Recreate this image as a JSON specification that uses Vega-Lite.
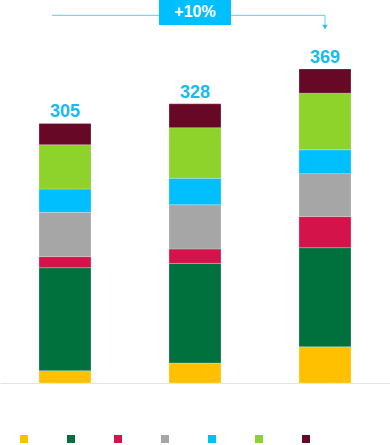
{
  "$schema": "https://vega.github.io/schema/vega-lite/v6.json",
  "width": 390,
  "height": 383,
  "autosize": {"type": "none"},
  "padding": {"left": 0, "top": 0, "right": 0, "bottom": 62},
  "background": "white",
  "config": {"view": {"stroke": null}, "font": "Liberation Sans"},
  "datasets": {
    "segments": [
      {"year": "2019", "series": "Segment 1", "value": 14.5},
      {"year": "2019", "series": "Segment 2", "value": 121},
      {"year": "2019", "series": "Segment 3", "value": 13},
      {"year": "2019", "series": "Segment 4", "value": 52},
      {"year": "2019", "series": "Segment 5", "value": 27.5},
      {"year": "2019", "series": "Segment 6", "value": 52},
      {"year": "2019", "series": "Segment 7", "value": 25},
      {"year": "2020", "series": "Segment 1", "value": 23.5},
      {"year": "2020", "series": "Segment 2", "value": 117},
      {"year": "2020", "series": "Segment 3", "value": 17},
      {"year": "2020", "series": "Segment 4", "value": 52},
      {"year": "2020", "series": "Segment 5", "value": 31},
      {"year": "2020", "series": "Segment 6", "value": 59.5},
      {"year": "2020", "series": "Segment 7", "value": 28},
      {"year": "2021", "series": "Segment 1", "value": 42.5},
      {"year": "2021", "series": "Segment 2", "value": 116.5},
      {"year": "2021", "series": "Segment 3", "value": 36.5},
      {"year": "2021", "series": "Segment 4", "value": 50.5},
      {"year": "2021", "series": "Segment 5", "value": 28},
      {"year": "2021", "series": "Segment 6", "value": 66.5},
      {"year": "2021", "series": "Segment 7", "value": 28.5}
    ],
    "growth": [
      {"from": "2019", "to": "2021", "mid": "2020", "lineY": 432, "tipY": 421, "arrowY": 418, "boxBottom": 420.6, "boxTop": 450, "labelY": 435.5, "label": "+10%"}
    ]
  },
  "layer": [
    {
      "data": {"name": "segments"},
      "mark": {"type": "bar", "stroke": "white", "strokeWidth": 0.4, "strokeOpacity": 0.6},
      "encoding": {
        "x": {
          "field": "year", "type": "nominal",
          "scale": {"domain": ["2019", "2020", "2021"], "paddingInner": 0.6, "paddingOuter": 0.3},
          "axis": {"title": null, "labels": false, "ticks": false, "domainColor": "#e3e3e3", "domainWidth": 1}
        },
        "y": {
          "field": "value", "type": "quantitative", "stack": "zero",
          "scale": {"domain": [0, 450], "nice": false},
          "axis": null
        },
        "color": {
          "field": "series", "type": "nominal",
          "scale": {
            "domain": ["Segment 1", "Segment 2", "Segment 3", "Segment 4", "Segment 5", "Segment 6", "Segment 7"],
            "range": ["#FFC000", "#00703C", "#D4134A", "#A6A6A6", "#00BFFF", "#8DD32B", "#680827"]
          },
          "legend": {
            "orient": "none", "legendX": 19, "legendY": 434, "direction": "horizontal",
            "title": null, "symbolType": "square", "symbolSize": 64, "symbolStrokeWidth": 0,
            "labelExpr": "''", "labelOffset": 0, "columnPadding": 37
          }
        },
        "order": {"field": "series", "type": "ordinal", "sort": "ascending"}
      }
    },
    {
      "data": {"name": "segments"},
      "transform": [{"aggregate": [{"op": "sum", "field": "value", "as": "total"}], "groupby": ["year"]}],
      "mark": {"type": "text", "dy": -6, "baseline": "alphabetic", "fontSize": 18, "fontWeight": "bold", "color": "#19B9F2"},
      "encoding": {
        "x": {"field": "year", "type": "nominal"},
        "y": {"field": "total", "type": "quantitative"},
        "text": {"field": "total", "type": "quantitative", "format": ".0f"}
      }
    },
    {
      "data": {"name": "growth"},
      "mark": {"type": "rule", "color": "#7FD3F5", "strokeWidth": 1.2},
      "encoding": {
        "x": {"field": "from", "type": "nominal", "bandPosition": 0.25},
        "x2": {"field": "to"},
        "y": {"field": "lineY", "type": "quantitative"}
      }
    },
    {
      "data": {"name": "growth"},
      "mark": {"type": "rule", "color": "#7FD3F5", "strokeWidth": 1.2},
      "encoding": {
        "x": {"field": "to", "type": "nominal"},
        "y": {"field": "lineY", "type": "quantitative"},
        "y2": {"field": "tipY"}
      }
    },
    {
      "data": {"name": "growth"},
      "mark": {"type": "point", "shape": "triangle-down", "filled": true, "size": 30, "color": "#2DBDF3", "opacity": 1},
      "encoding": {
        "x": {"field": "to", "type": "nominal"},
        "y": {"field": "arrowY", "type": "quantitative"}
      }
    },
    {
      "data": {"name": "growth"},
      "mark": {"type": "bar", "width": 72, "color": "#00BFFF"},
      "encoding": {
        "x": {"field": "mid", "type": "nominal"},
        "y": {"field": "boxBottom", "type": "quantitative"},
        "y2": {"field": "boxTop"}
      }
    },
    {
      "data": {"name": "growth"},
      "mark": {"type": "text", "fontSize": 16, "fontWeight": "bold", "color": "white", "baseline": "middle"},
      "encoding": {
        "x": {"field": "mid", "type": "nominal"},
        "y": {"field": "labelY", "type": "quantitative"},
        "text": {"field": "label"}
      }
    }
  ]
}
